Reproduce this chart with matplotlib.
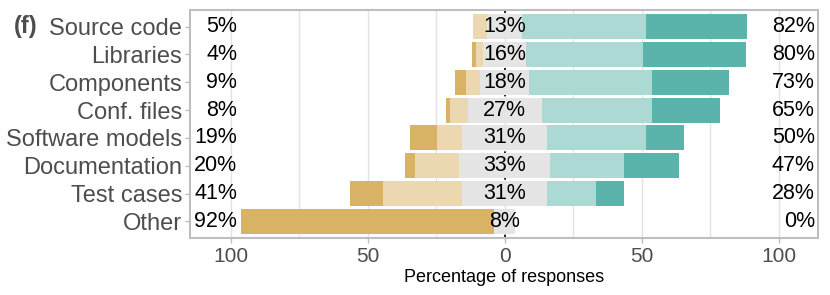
import numpy as np
import matplotlib.pyplot as plt

plt.rcParams['font.family'] = ['Liberation Sans', 'DejaVu Sans']

# Likert data (percent of responses), top row first
items = ['Source code', 'Libraries', 'Components', 'Conf. files',
         'Software models', 'Documentation', 'Test cases', 'Other']
strong_neg = [0, 1.5, 4, 1.5, 10, 4, 12, 92]
neg = [5, 2.5, 5, 6.5, 9, 16, 29, 0]
neutral = [13, 16, 18, 27, 31, 33, 31, 8]
pos = [45, 42.5, 45, 40.5, 36, 27, 18, 0]
strong_pos = [37, 37.5, 28, 24.5, 14, 20, 10, 0]

ticks = [-100, -50, 0, 50, 100]

c_sneg = '#D8B365'
c_neg = '#EBD8B0'
c_neu = '#E5E5E5'
c_pos = '#ADD9D5'
c_spos = '#5AB4AC'
grey = '#4D4D4D'

sn = np.array(strong_neg)
n = np.array(neg)
nu = np.array(neutral)
p = np.array(pos)
sp = np.array(strong_pos)
y = np.arange(len(items))

fig = plt.figure(figsize=(8.3, 2.95), dpi=100)
ax = fig.add_axes([0.2289, 0.1932, 0.7566, 0.7729])

h = 0.9
half = nu / 2
ax.barh(y, n, left=-half - n, height=h, color=c_neg, zorder=3)
ax.barh(y, sn, left=-half - n - sn, height=h, color=c_sneg, zorder=3)
ax.barh(y, nu, left=-half, height=h, color=c_neu, zorder=3)
ax.barh(y, p, left=half, height=h, color=c_pos, zorder=3)
ax.barh(y, sp, left=half + p, height=h, color=c_spos, zorder=3)

ax.axvline(0, color='black', linestyle=(0, (2, 3)), linewidth=1.2, zorder=2)

left_tot = np.round(sn + n).astype(int)
right_tot = np.round(p + sp).astype(int)
for i in range(len(items)):
    ax.text(-97.6, y[i], f'{left_tot[i]}%', ha='right', va='center',
            fontsize=15.5, color='black', zorder=4)
    ax.text(0, y[i], f'{int(nu[i])}%', ha='center', va='center',
            fontsize=15.5, color='black', zorder=4)
    ax.text(113.3, y[i], f'{right_tot[i]}%', ha='right', va='center',
            fontsize=15.5, color='black', zorder=4)

ax.set_xlim(-114.8, 114.4)
ax.set_ylim(len(items) - 0.4, -0.6)
ax.set_xticks(ticks)
ax.set_xticklabels([str(abs(t)) for t in ticks])
ax.set_xticks([-75, -25, 25, 75], minor=True)
ax.set_yticks(y)
ax.set_yticklabels(items)
ax.grid(True, axis='x', which='both', color='#E3E3E3', linewidth=1.0, zorder=0)
ax.set_axisbelow(True)
ax.tick_params(axis='both', which='major', colors='#BEBEBE', labelcolor=grey,
               length=3.5, width=1.0)
ax.tick_params(axis='x', which='minor', length=0)
ax.tick_params(axis='y', labelsize=17, pad=2)
ax.tick_params(axis='x', labelsize=15, pad=3)
for s in ax.spines.values():
    s.set_color('#BEBEBE')
    s.set_linewidth(1.5)

ax.set_xlabel('Percentage of responses', fontsize=13, color='black', labelpad=2)

fig.text(0.017, 0.9115, '(f)', fontsize=17, fontweight='bold', color=grey,
         ha='left', va='center')

fig.savefig('out.png', dpi=100)
